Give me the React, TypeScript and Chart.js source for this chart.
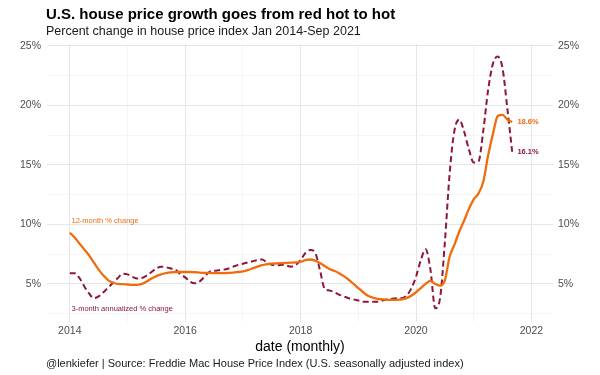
import React, { useEffect, useRef } from "react";
import { Chart, registerables } from "chart.js";

Chart.register(...registerables);

const START_YEAR = 2014;

// 12-month % change, monthly Jan 2014 - Sep 2021
const hpa12: number[] = [
  9.3, 8.9, 8.4, 7.9, 7.4, 6.8, 6.2, 5.7, 5.3, 5.1, 5.0, 4.98,
  4.95, 4.92, 4.92, 5.0, 5.2, 5.45, 5.65, 5.8, 5.9, 5.97, 6.0, 6.0,
  6.0, 6.0, 5.98, 5.95, 5.93, 5.92, 5.9, 5.9, 5.9, 5.92, 5.95, 6.0,
  6.05, 6.15, 6.3, 6.45, 6.58, 6.65, 6.7, 6.72, 6.74, 6.76, 6.78, 6.8,
  6.85, 7.0, 7.05, 6.95, 6.75, 6.5, 6.25, 6.1, 5.9, 5.65, 5.35, 5.0,
  4.65, 4.3, 4.0, 3.85, 3.75, 3.7, 3.66, 3.65, 3.66, 3.7, 3.8, 4.0,
  4.3, 4.65, 5.0, 5.25, 5.0, 4.85, 5.3, 7.3, 8.3, 9.4, 10.3, 11.3,
  12.1, 12.6, 13.6, 15.8, 17.6, 19.1, 19.2, 18.8, 18.6,
];

// 3-month annualized % change, monthly Jan 2014 - Sep 2021
const hpa3: number[] = [
  5.9, 5.9, 5.5, 4.8, 4.2, 3.8, 3.95, 4.3, 4.7, 5.1, 5.5, 5.85,
  5.8, 5.6, 5.45, 5.5, 5.7, 6.0, 6.3, 6.45, 6.4, 6.3, 6.2, 5.8,
  5.55, 5.2, 5.05, 5.2, 5.6, 6.0, 6.1, 6.15, 6.2, 6.3, 6.45, 6.6,
  6.7, 6.8, 6.9, 7.0, 7.05, 6.8, 6.6, 6.55, 6.6, 6.55, 6.45, 6.6,
  7.0, 7.6, 7.85, 7.65, 6.2, 4.6, 4.45, 4.3, 4.1, 3.95, 3.8, 3.7,
  3.6, 3.5, 3.5, 3.5, 3.5, 3.6, 3.7, 3.75, 3.8, 3.8, 4.0, 4.6,
  5.6, 7.0, 7.9, 6.2, 2.95, 3.8, 8.5, 14.3, 17.9, 18.8, 17.8, 16.3,
  15.2, 15.3, 17.9, 21.3, 23.5, 24.1, 23.1, 19.7, 16.1,
];

const xTickYears: number[] = [2014, 2015, 2016, 2017, 2018, 2019, 2020, 2021, 2022];
const yTickValues: number[] = [2.5, 5, 7.5, 10, 12.5, 15, 17.5, 20, 22.5, 25];

const TITLE = "U.S. house price growth goes from red hot to hot";
const SUBTITLE = "Percent change in house price index Jan 2014-Sep 2021";
const X_TITLE = "date (monthly)";
const CAPTION = "@lenkiefer | Source: Freddie Mac House Price Index (U.S. seasonally adjusted index)";
const LABEL_12 = "12-month % change";
const LABEL_3 = "3-month annualized % change";

const ORANGE = "#f06c0e";
const DARKRED = "#8e1636";
const FONT = '"Liberation Sans", Arial, Helvetica, sans-serif';

const toPoints = (arr: number[]) => arr.map((v, i) => ({ x: START_YEAR + i / 12, y: v }));

const textPlugin = {
  id: "textPlugin",
  afterDraw(chart: any) {
    const { ctx, chartArea, scales } = chart;
    const xs = scales.x;
    const ys = scales.y;
    ctx.save();
    ctx.textAlign = "left";
    ctx.textBaseline = "alphabetic";
    ctx.fillStyle = "#000";
    ctx.font = `bold 15px ${FONT}`;
    ctx.fillText(TITLE, 46, 18.5);
    ctx.font = `12.5px ${FONT}`;
    ctx.fillStyle = "#1a1a1a";
    ctx.fillText(SUBTITLE, 46, 35);

    ctx.textAlign = "center";
    ctx.fillStyle = "#000";
    ctx.font = `14px ${FONT}`;
    ctx.fillText(X_TITLE, (chartArea.left + chartArea.right) / 2, 351);

    ctx.textAlign = "left";
    ctx.font = `11px ${FONT}`;
    ctx.fillStyle = "#1a1a1a";
    ctx.fillText(CAPTION, 46, 367);

    // series annotations
    ctx.textBaseline = "middle";
    ctx.font = `7.5px ${FONT}`;
    ctx.fillStyle = ORANGE;
    ctx.fillText(LABEL_12, xs.getPixelForValue(2014.03), ys.getPixelForValue(10.3));
    ctx.fillStyle = DARKRED;
    ctx.fillText(LABEL_3, xs.getPixelForValue(2014.03), ys.getPixelForValue(2.87));

    // end labels
    const lastIdx = hpa12.length - 1;
    const lastX = START_YEAR + lastIdx / 12;
    ctx.font = `bold 7.5px ${FONT}`;
    ctx.fillStyle = ORANGE;
    ctx.fillText(hpa12[lastIdx].toFixed(1) + "%", xs.getPixelForValue(lastX + 0.09), ys.getPixelForValue(hpa12[lastIdx]));
    ctx.fillStyle = DARKRED;
    ctx.fillText(hpa3[lastIdx].toFixed(1) + "%", xs.getPixelForValue(lastX + 0.09), ys.getPixelForValue(hpa3[lastIdx]));
    ctx.restore();
  },
};

export default function App() {
  const ref = useRef<HTMLCanvasElement | null>(null);

  useEffect(() => {
    if (!ref.current) return;
    const yAxisCommon = (pos: "left" | "right") => ({
      type: "linear" as const,
      position: pos,
      min: 1.8,
      max: 25.15,
      afterBuildTicks: (scale: any) => {
        scale.ticks = yTickValues.map((v) => ({ value: v }));
      },
      afterFit: (scale: any) => {
        scale.width = 47;
      },
      border: { display: false },
      grid: {
        display: true,
        drawOnChartArea: pos === "left",
        drawTicks: false,
        color: (c: any) => (c.tick && c.tick.value % 5 === 0 ? "#e6e6e6" : "#f0f0f0"),
        lineWidth: (c: any) => (c.tick && c.tick.value % 5 === 0 ? 1 : 0.7),
      },
      ticks: {
        padding: pos === "left" ? 6 : 5,
        color: "#4d4d4d",
        font: { size: 10.5, family: FONT },
        callback: (v: any) => (Number(v) % 5 === 0 ? `${v}%` : ""),
      },
    });

    const chart = new Chart(ref.current, {
      type: "line",
      data: {
        datasets: [
          {
            label: LABEL_12,
            data: toPoints(hpa12),
            borderColor: ORANGE,
            borderWidth: 2.3,
            pointRadius: 0,
            cubicInterpolationMode: "monotone",
            fill: false,
            order: 0,
          },
          {
            label: LABEL_3,
            data: toPoints(hpa3),
            borderColor: DARKRED,
            borderWidth: 2,
            borderDash: [6, 3.5],
            pointRadius: 0,
            cubicInterpolationMode: "monotone",
            fill: false,
            order: 1,
          },
        ],
      },
      options: {
        responsive: false,
        animation: false,
        layout: { padding: { top: 44, left: 0, right: 0, bottom: 0 } },
        plugins: {
          legend: { display: false },
          tooltip: { enabled: false },
          title: { display: false },
        },
        scales: {
          x: {
            type: "linear",
            min: 2013.605,
            max: 2022.374,
            afterBuildTicks: (scale: any) => {
              scale.ticks = xTickYears.map((v) => ({ value: v }));
            },
            afterFit: (scale: any) => {
              scale.height = 53;
            },
            border: { display: false },
            grid: {
              drawTicks: false,
              color: (c: any) => (c.tick && c.tick.value % 2 === 0 ? "#e6e6e6" : "#f0f0f0"),
              lineWidth: (c: any) => (c.tick && c.tick.value % 2 === 0 ? 1 : 0.7),
            },
            ticks: {
              padding: 3,
              color: "#4d4d4d",
              maxRotation: 0,
              autoSkip: false,
              font: { size: 10.5, family: FONT },
              callback: (v: any) => (Number(v) % 2 === 0 ? String(v) : ""),
            },
          },
          y: yAxisCommon("left"),
          y2: yAxisCommon("right"),
        },
      },
      plugins: [textPlugin],
    });
    return () => chart.destroy();
  }, []);

  return (
    <div style={{ position: "absolute", left: 0, top: 0, width: 600, height: 375, background: "#fff" }}>
      <canvas ref={ref} width={600} height={375} style={{ display: "block" }} />
    </div>
  );
}
